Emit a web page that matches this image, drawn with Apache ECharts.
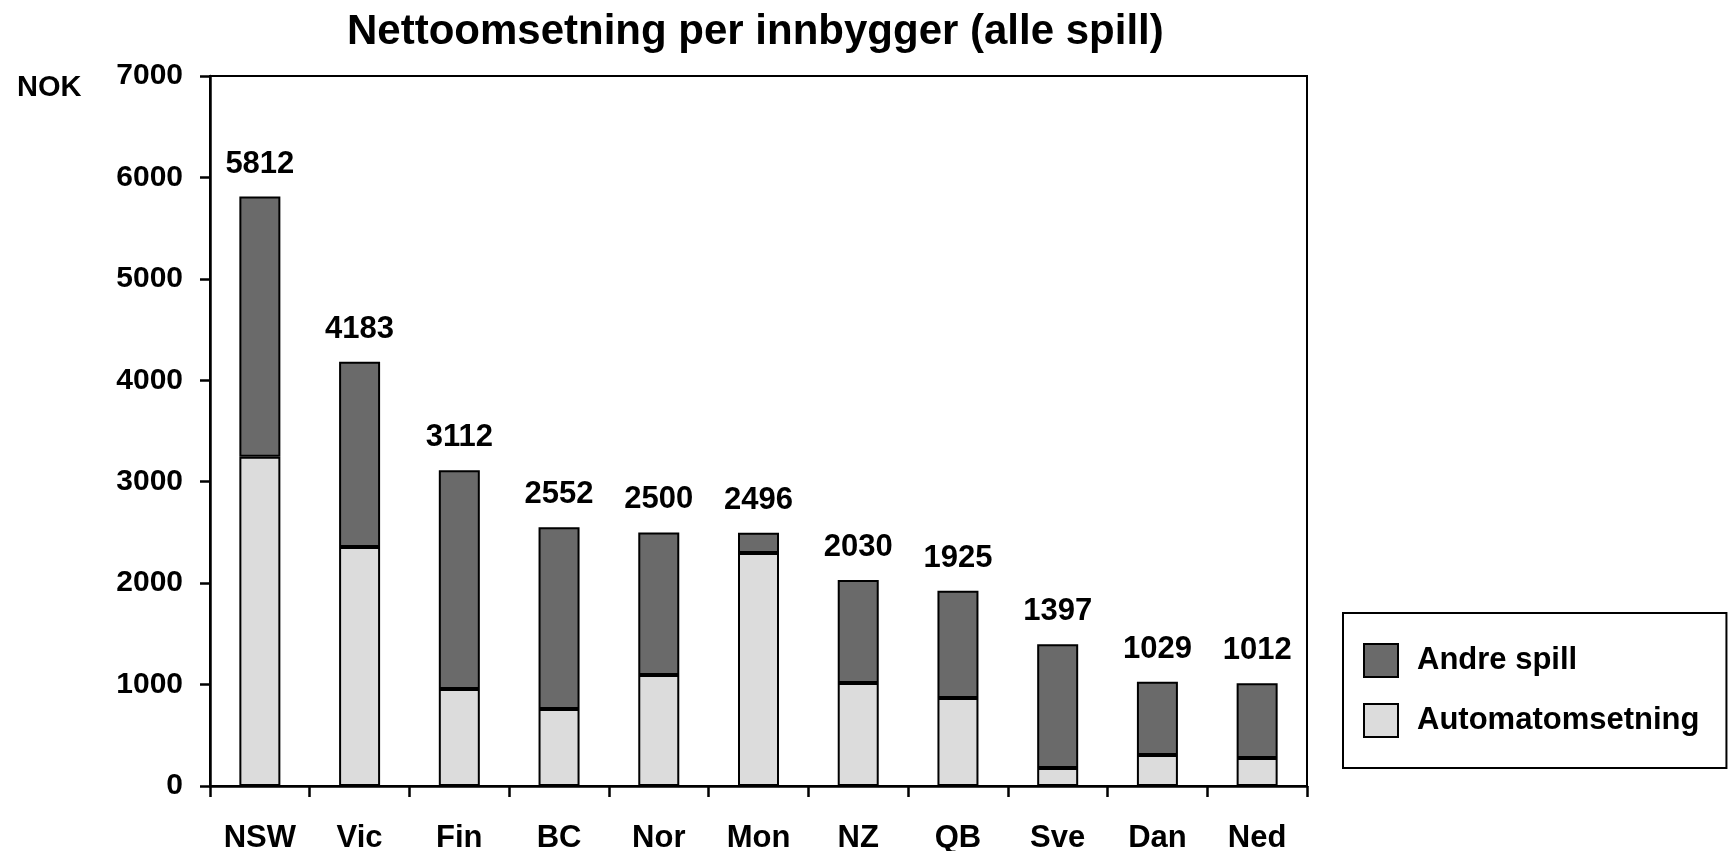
<!DOCTYPE html>
<html>
<head>
<meta charset="utf-8">
<style>
html,body{margin:0;padding:0;background:#fff;}
#chart{width:1732px;height:851px;}
</style>
<script src="https://cdn.jsdelivr.net/npm/echarts@6/dist/echarts.min.js"></script>
</head>
<body>
<div id="chart"></div>
<script>
const categories = ['NSW','Vic','Fin','BC','Nor','Mon','NZ','QB','Sve','Dan','Ned'];
const totals = [5812, 4183, 3112, 2552, 2500, 2496, 2030, 1925, 1397, 1029, 1012];
const automat = [3245, 2357, 957, 759, 1095, 2298, 1016, 868, 178, 306, 276];
const andre = [2567, 1826, 2155, 1793, 1405, 198, 1014, 1057, 1219, 723, 736];
const yTicks = [0, 1000, 2000, 3000, 4000, 5000, 6000, 7000];

const FONT = "'Liberation Sans', Arial, sans-serif";
const chart = echarts.init(document.getElementById('chart'));
chart.setOption({
  animation: false,
  backgroundColor: '#fff',
  title: {
    text: 'Nettoomsetning per innbygger (alle spill)',
    left: 342, top: 6,
    textStyle: { fontFamily: FONT, fontWeight: 'bold', fontSize: 42, color: '#000' }
  },
  graphic: [{
    type: 'text', left: 17, top: 73,
    style: { text: 'NOK', font: "bold 29px 'Liberation Sans', Arial, sans-serif", fill: '#000' }
  }],
  legend: {
    orient: 'vertical',
    left: 1343, top: 613,
    padding: [30, 27, 30, 20],
    icon: 'rect',
    itemWidth: 34, itemHeight: 33, itemGap: 25, itemTextGap: 20,
    borderColor: '#000', borderWidth: 2,
    data: ['Andre spill', 'Automatomsetning'],
    textStyle: { fontFamily: FONT, fontWeight: 'bold', fontSize: 31, color: '#000', padding: [0, 0, 0, 14] },
    itemStyle: { borderColor: '#000', borderWidth: 2 }
  },
  grid: {
    left: 210, right: 425, top: 76, bottom: 65,
    outerBoundsMode: 'none', containLabel: false,
    show: true, borderColor: '#000', borderWidth: 2, backgroundColor: 'transparent'
  },
  xAxis: {
    type: 'category',
    data: categories,
    axisLine: { lineStyle: { color: '#000', width: 2.5 } },
    axisTick: { show: true, length: 11, lineStyle: { color: '#000', width: 2.5 } },
    axisLabel: { fontFamily: FONT, fontWeight: 'bold', fontSize: 31, color: '#000', margin: 37 }
  },
  yAxis: {
    type: 'value',
    min: 0, max: 7000, interval: 1000,
    splitLine: { show: false },
    axisLine: { show: true, lineStyle: { color: '#000', width: 2.5 } },
    axisTick: { show: true, length: 10, lineStyle: { color: '#000', width: 2.5 } },
    axisLabel: {
      fontFamily: FONT, fontWeight: 'bold', fontSize: 30, color: '#000', margin: 27,
      formatter: v => yTicks.includes(v) ? String(v) : ''
    }
  },
  series: [
    {
      name: 'Automatomsetning', type: 'bar', stack: 'tot', barWidth: 41,
      data: automat,
      itemStyle: { color: '#dcdcdc', borderColor: '#000', borderWidth: 2 }
    },
    {
      name: 'Andre spill', type: 'bar', stack: 'tot', barWidth: 41,
      data: andre,
      itemStyle: { color: '#6a6a6a', borderColor: '#000', borderWidth: 2 },
      label: {
        show: true, position: 'top', distance: 17,
        fontFamily: FONT, fontWeight: 'bold', fontSize: 31, color: '#000',
        formatter: p => String(totals[p.dataIndex])
      }
    }
  ]
});
</script>
</body>
</html>
